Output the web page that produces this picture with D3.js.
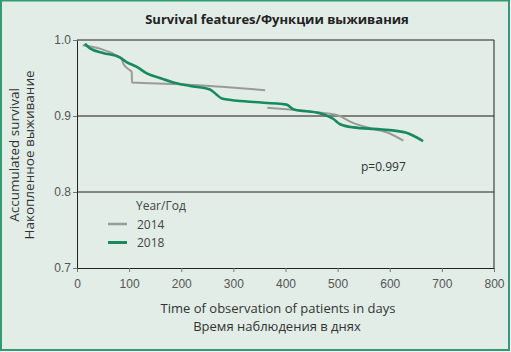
<!DOCTYPE html>
<html>
<head>
<meta charset="utf-8">
<script src="https://cdn.jsdelivr.net/npm/d3@7"></script>
<style>
  body { margin: 0; background: #fff; }
  svg { display: block; font-family: "Open Sans", "Noto Sans", sans-serif; }
  .tick text { fill: #555; font-size: 12px; }
</style>
</head>
<body>
<div id="chart"></div>
<script>
// 2014 curve (null breaks the line where the curve jumps)
const days2014 = [11, 86, 88, 98, 105, 105.5, 191, 361, null, 365, 402, 472, 504, 524, 562, 600, 626];
const surv2014 = [0.993, 0.976, 0.970, 0.962, 0.958, 0.944, 0.942, 0.934, null, 0.911, 0.909, 0.904, 0.900, 0.8925, 0.884, 0.877, 0.8675];

// 2018 curve
const days2018 = [15, 25, 50, 82, 95, 114, 134, 159, 191, 217, 255, 268, 278, 326, 402, 415, 466, 492, 504, 530, 581, 632, 648, 664];
const surv2018 = [0.995, 0.989, 0.983, 0.977, 0.971, 0.965, 0.956, 0.950, 0.943, 0.9395, 0.935, 0.928, 0.923, 0.919, 0.915, 0.909, 0.9035, 0.896, 0.8895, 0.885, 0.8825, 0.878, 0.873, 0.867];

const xTicks = [0, 100, 200, 300, 400, 500, 600, 700, 800];
const yTicks = [0.7, 0.8, 0.9, 1.0];
const years = ['2014', '2018'];
const colors = { '2014': '#9a9a9a', '2018': '#178b5f' };

const width = 511, height = 352;
const margin = { top: 40, right: 17, bottom: 84, left: 77 };

const svg = d3.select('#chart').append('svg')
    .attr('width', width)
    .attr('height', height);

svg.append('rect')
    .attr('x', 1).attr('y', 0.5)
    .attr('width', width - 3).attr('height', height - 2.5)
    .attr('fill', '#e2ede7')
    .attr('stroke', '#2f9d6f')
    .attr('stroke-width', 2);

svg.append('text')
    .attr('x', 277).attr('y', 24)
    .attr('text-anchor', 'middle')
    .attr('font-weight', 'bold')
    .attr('font-size', 13)
    .attr('fill', '#222')
    .text('Survival features/Функции выживания');

const xScale = d3.scaleLinear()
    .domain([0, 800])
    .range([margin.left, width - margin.right]);

const yScale = d3.scaleLinear()
    .domain([0.7, 1.0])
    .range([height - margin.bottom, margin.top]);

// grid lines
svg.selectAll('.grid')
    .data([0.8, 0.9, 1.0])
    .enter()
    .append('line')
    .attr('class', 'grid')
    .attr('x1', xScale(0))
    .attr('x2', xScale(800))
    .attr('y1', d => yScale(d))
    .attr('y2', d => yScale(d))
    .attr('stroke', d => d === 0.9 ? '#808080' : '#222')
    .attr('stroke-width', d => d === 0.9 ? 2 : 1);

// right frame
svg.append('line')
    .attr('x1', xScale(800)).attr('x2', xScale(800))
    .attr('y1', yScale(1.0)).attr('y2', yScale(0.7))
    .attr('stroke', '#222');

const xAxis = d3.axisBottom(xScale)
    .tickValues(xTicks)
    .tickFormat(d3.format('d'))
    .tickSize(4)
    .tickSizeOuter(0);

const yAxis = d3.axisLeft(yScale)
    .tickValues(yTicks)
    .tickFormat(d3.format('.1f'))
    .tickSize(4)
    .tickSizeOuter(0);

const gx = svg.append('g')
    .attr('transform', `translate(0,${yScale(0.7)})`)
    .call(xAxis);
gx.select('.domain').attr('stroke', '#222');
gx.selectAll('.tick line').attr('stroke', '#777');
gx.selectAll('.tick text').attr('dy', '1.05em');

const gy = svg.append('g')
    .attr('transform', `translate(${xScale(0)},0)`)
    .call(yAxis);
gy.select('.domain').attr('stroke', '#222');
gy.selectAll('.tick line').attr('stroke', '#777');
gy.selectAll('.tick text').attr('x', -6);

// curves
const line = d3.line()
    .defined(d => d.day !== null)
    .curve(d3.curveMonotoneX)
    .x(d => xScale(d.day))
    .y(d => yScale(d.surv));

const series = {
    '2014': days2014.map((d, i) => ({ day: d, surv: surv2014[i] })),
    '2018': days2018.map((d, i) => ({ day: d, surv: surv2018[i] }))
};

years.forEach(y => {
    svg.append('path')
        .datum(series[y])
        .attr('fill', 'none')
        .attr('stroke', colors[y])
        .attr('stroke-width', y === '2018' ? 2.6 : 2)
        .attr('stroke-linejoin', 'round')
        .attr('d', line);
});

// p value
svg.append('text')
    .attr('x', 361).attr('y', 171)
    .attr('font-size', 12)
    .attr('fill', '#333')
    .text('p=0.997');

// legend
const legend = svg.append('g');
legend.append('text')
    .attr('x', 136).attr('y', 210)
    .attr('font-size', 12)
    .attr('fill', '#444')
    .text('Year/Год');

years.forEach((y, i) => {
    const ly = 224 + i * 18.5;
    legend.append('line')
        .attr('x1', 108).attr('x2', 127)
        .attr('y1', ly).attr('y2', ly)
        .attr('stroke', colors[y])
        .attr('stroke-width', y === '2018' ? 3 : 2.5);
    legend.append('text')
        .attr('x', 137).attr('y', ly + 4.5)
        .attr('font-size', 12)
        .attr('fill', '#444')
        .text(y);
});

// axis titles
svg.append('text')
    .attr('x', 278).attr('y', 313)
    .attr('text-anchor', 'middle')
    .attr('font-size', 13)
    .attr('fill', '#333')
    .text('Time of observation of patients in days');

svg.append('text')
    .attr('x', 277).attr('y', 331)
    .attr('text-anchor', 'middle')
    .attr('font-size', 13)
    .attr('fill', '#333')
    .text('Время наблюдения в днях');

const yTitle = svg.append('text')
    .attr('transform', 'translate(19,155) rotate(-90)')
    .attr('text-anchor', 'middle')
    .attr('font-size', 13.5)
    .attr('fill', '#333');
yTitle.append('tspan').attr('x', 0).attr('dy', 0).text('Accumulated survival');
yTitle.append('tspan').attr('x', 0).attr('dy', '1.1em').text('Накопленное выживание');
</script>
</body>
</html>
